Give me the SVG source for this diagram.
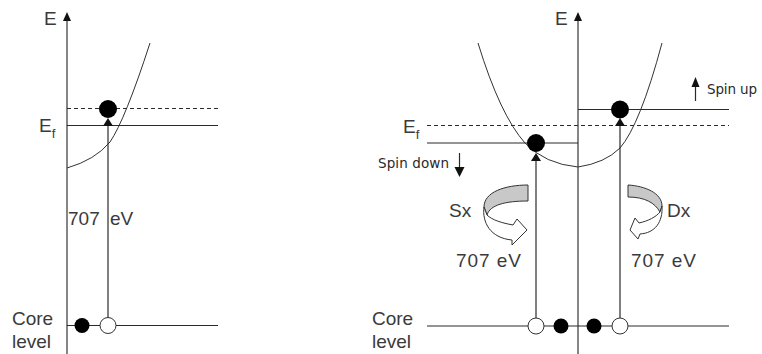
<svg xmlns="http://www.w3.org/2000/svg" width="762" height="354" viewBox="0 0 762 354">
<style>
.ln{stroke:#2a2a2a;stroke-width:1.2;fill:none}
.ax{stroke:#444;stroke-width:1.3;fill:none}
.ds{stroke:#2a2a2a;stroke-width:1.2;fill:none;stroke-dasharray:4 3}
.cv{stroke:#333;stroke-width:1;fill:none}
.t{font-family:"Liberation Sans",Arial,sans-serif;font-size:19px;fill:#3a3a3a}
.s{font-family:"DejaVu Sans",Verdana,sans-serif;font-size:13.5px;fill:#2a2a2a}
.tip{fill:#111}
.el{fill:#000}
.ho{fill:#fff;stroke:#333;stroke-width:1}
.gr{fill:#c8c8c8;stroke:#333;stroke-width:1}
.wh{fill:#fff;stroke:#333;stroke-width:1;stroke-linejoin:miter}
</style>
<rect width="762" height="354" fill="#fff"/>
<g id="left-panel">
  <g id="left-axis">
    <line class="ax" x1="67" y1="19" x2="67" y2="354"/>
    <polygon class="tip" points="67,12 63,21 71,21"/>
    <text class="t" x="44" y="25">E</text>
  </g>
  <path class="cv" d="M67,168 Q95,160 110,142 Q125,120 150,43"/>
  <line class="ds" x1="67" y1="108.5" x2="218" y2="108.5"/>
  <line class="ln" x1="67" y1="125.5" x2="218" y2="125.5"/>
  <text class="t" x="39" y="132">E<tspan font-size="13" dy="6">f</tspan></text>
  <line class="ln" x1="67" y1="325.5" x2="218" y2="325.5"/>
  <line class="ln" x1="108" y1="125" x2="108" y2="318"/>
  <polygon class="tip" points="108,118 103,126 113,126"/>
  <circle class="el" cx="108" cy="109" r="9"/>
  <circle class="el" cx="82" cy="325.5" r="7.5"/>
  <circle class="ho" cx="108" cy="325.5" r="8"/>
  <text class="t" x="68" y="225">707<tspan x="110">eV</tspan></text>
  <text class="t" x="12" y="325">Core</text>
  <text class="t" x="12" y="348">level</text>
</g>
<g id="right-panel">
  <g id="right-axis">
    <line class="ax" x1="578" y1="19" x2="578" y2="354"/>
    <polygon class="tip" points="578,12 574,21 582,21"/>
    <text class="t" x="555" y="25">E</text>
  </g>
  <path class="cv" d="M478,43 Q500,115 525,143 Q545,164 578,167 Q605,163 620,148 Q640,125 662,43"/>
  <line class="ds" x1="427" y1="125.5" x2="729" y2="125.5"/>
  <line class="ln" x1="578" y1="109.5" x2="729" y2="109.5"/>
  <line class="ln" x1="427" y1="143" x2="578" y2="143"/>
  <text class="t" x="403" y="133">E<tspan font-size="13" dy="6">f</tspan></text>
  <g id="spin-up">
    <line class="ln" x1="695.5" y1="84" x2="695.5" y2="101" stroke-width="1.5"/>
    <polygon class="tip" points="695.5,77 691.5,87 699.5,87"/>
    <text class="s" x="707" y="94" textLength="50">Spin up</text>
  </g>
  <g id="spin-down">
    <line class="ln" x1="459.5" y1="153" x2="459.5" y2="170" stroke-width="1.5"/>
    <polygon class="tip" points="459.5,177 454.5,167 464.5,167"/>
    <text class="s" x="378" y="168" textLength="71">Spin down</text>
  </g>
  <line class="ln" x1="427" y1="326" x2="729" y2="326"/>
  <line class="ln" x1="536" y1="160" x2="536" y2="318"/>
  <line class="ln" x1="620" y1="125" x2="620" y2="318"/>
  <polygon class="tip" points="536,153 531,161 541,161"/>
  <polygon class="tip" points="620,118 615,126 625,126"/>
  <circle class="el" cx="536" cy="143" r="9"/>
  <circle class="el" cx="620" cy="109.5" r="9"/>
  <circle class="ho" cx="536" cy="326" r="8"/>
  <circle class="el" cx="561" cy="326" r="7.5"/>
  <circle class="el" cx="594" cy="326" r="7.5"/>
  <circle class="ho" cx="620" cy="326" r="8"/>
  <g id="sx-arrow">
    <path class="gr" d="M528,185 C505,185 484,192 484,207 L487,215 C490,205 505,201 528,201 Z"/>
    <path class="wh" d="M484,207 C482,222 490,238 512,240 L512,245 L527,230 L517,219 L513,225 C502,223 492,220 487,215 Z"/>
    <text class="t" x="449" y="217">Sx</text>
  </g>
  <g id="dx-arrow">
    <path class="gr" d="M628,185 C645,186 662,193 662,206 L660,212 C655,203 645,197 628,197 Z"/>
    <path class="wh" d="M662,206 C663,222 655,233 640,234 L638,239 L630,230 L635,218 L639,223 C648,221 656,217 660,212 Z"/>
    <text class="t" x="667" y="217">Dx</text>
  </g>
  <text class="t" x="456" y="267" textLength="65">707 eV</text>
  <text class="t" x="631" y="267" textLength="65">707 eV</text>
  <text class="t" x="372" y="325">Core</text>
  <text class="t" x="372" y="348">level</text>
</g>
</svg>
